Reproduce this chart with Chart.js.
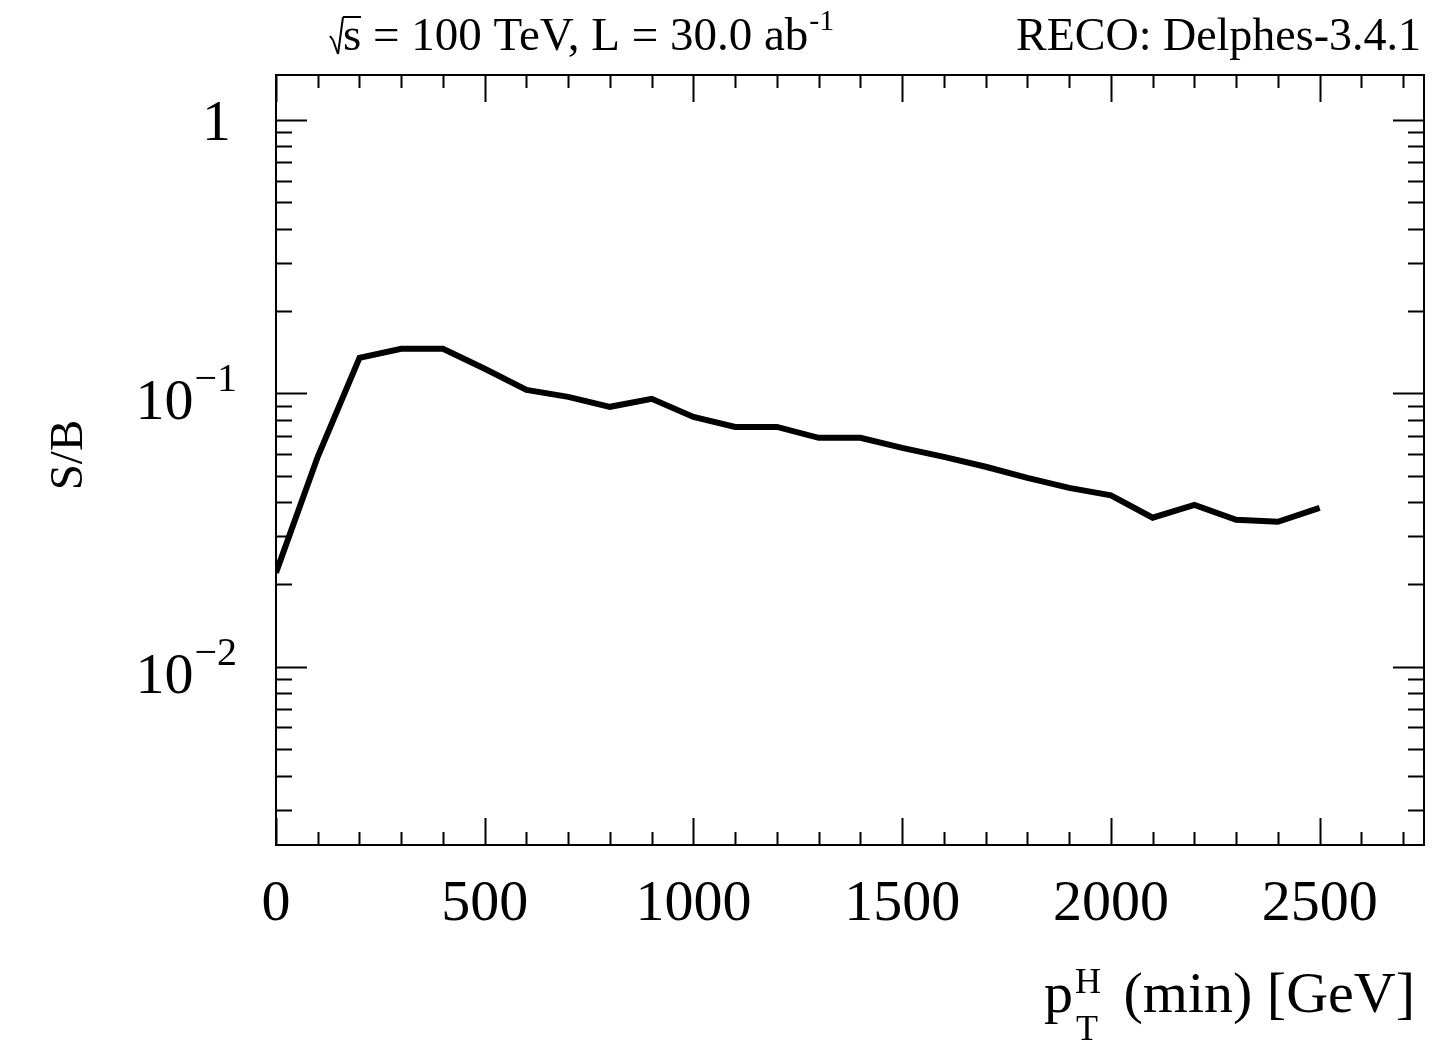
<!DOCTYPE html>
<html>
<head>
<meta charset="utf-8">
<script src="https://cdn.jsdelivr.net/npm/chart.js@4.4.1/dist/chart.umd.min.js"></script>
<style>
    body { margin: 0; background: #fff; }
    canvas { display: block; }
</style>
</head>
<body>
<canvas id="graph" width="1440" height="1041"></canvas>
<script>
// pT(min) cut values [GeV]
const ptMin = [0, 100, 200, 300, 400, 500, 600, 700, 800, 900, 1000, 1100, 1200,
    1300, 1400, 1500, 1600, 1700, 1800, 1900, 2000, 2100, 2200, 2300, 2400, 2500];
// S/B
const sOverB = [0.0221, 0.0586, 0.135, 0.1455, 0.1455, 0.123, 0.103, 0.0971, 0.0893, 0.0955,
    0.082, 0.0754, 0.0754, 0.0688, 0.0688, 0.0632, 0.0586, 0.0539, 0.0491, 0.0451,
    0.0424, 0.0351, 0.0391, 0.0345, 0.0339, 0.0381];

const xLabels = [0, 500, 1000, 1500, 2000, 2500];
const xMinorStep = 100;
const yDecades = [0.01, 0.1, 1];
const yLabels = ['1', '10|−1', '10|−2'];  // base|exponent
const xRange = [0, 2750];
const yRange = [0.00223, 1.46];

const serif = '"Liberation Serif", "DejaVu Serif", serif';

function line(ctx, x1, y1, x2, y2) {
    ctx.beginPath();
    ctx.moveTo(x1, y1);
    ctx.lineTo(x2, y2);
    ctx.stroke();
}

const rootFrame = {
    id: 'rootFrame',
    afterDraw(chart) {
        const ctx = chart.ctx;
        const a = chart.chartArea;
        const x = chart.scales.x;
        const y = chart.scales.y;
        ctx.save();
        ctx.strokeStyle = '#000';
        ctx.fillStyle = '#000';
        ctx.lineWidth = 2;
        ctx.strokeRect(a.left, a.top, a.right - a.left, a.bottom - a.top);

        // x ticks, bottom and top, pointing inward
        for (let v = xRange[0]; v <= xRange[1]; v += xMinorStep) {
            const px = Math.round(x.getPixelForValue(v)) + 0.5;
            const len = xLabels.includes(v) ? 27 : 13;
            line(ctx, px, a.bottom, px, a.bottom - len);
            line(ctx, px, a.top, px, a.top + len);
        }
        // y ticks, log: decades + 2..9
        for (let e = -3; e <= 0; e++) {
            for (let m = 1; m <= 9; m++) {
                const v = m * Math.pow(10, e);
                if (v < yRange[0] || v > yRange[1]) continue;
                const py = Math.round(y.getPixelForValue(v)) + 0.5;
                const len = m === 1 ? 31 : 16;
                line(ctx, a.left, py, a.left + len, py);
                line(ctx, a.right, py, a.right - len, py);
            }
        }

        // x tick labels
        ctx.font = '58px ' + serif;
        ctx.textAlign = 'center';
        ctx.textBaseline = 'alphabetic';
        xLabels.forEach(v => {
            ctx.fillText(String(v), x.getPixelForValue(v), 920);
        });

        // y tick labels
        const decadesDesc = [...yDecades].reverse();
        decadesDesc.forEach((v, i) => {
            const py = y.getPixelForValue(v);
            const [base, exp] = yLabels[i].split('|');
            ctx.textAlign = 'right';
            if (!exp) {
                ctx.font = '58px ' + serif;
                ctx.fillText(base, 231, py + 20);
            } else {
                ctx.font = '40px ' + serif;
                const ew = ctx.measureText(exp).width;
                ctx.fillText(exp, 237, py - 2);
                ctx.font = '58px ' + serif;
                ctx.fillText(base, 237 - ew - 1, py + 26);
            }
        });

        // y title
        ctx.save();
        ctx.translate(82, 455);
        ctx.rotate(-Math.PI / 2);
        ctx.font = '47px ' + serif;
        ctx.textAlign = 'center';
        ctx.fillText('S/B', 0, 0);
        ctx.restore();

        // x title
        ctx.font = '58px ' + serif;
        ctx.textAlign = 'right';
        ctx.fillText('(min) [GeV]', 1415, 1012);
        ctx.textAlign = 'left';
        ctx.fillText('p', 1044, 1012);
        ctx.font = '36px ' + serif;
        ctx.fillText('H', 1075, 993);
        ctx.fillText('T', 1076, 1040);

        // header left: sqrt(s) = 100 TeV, L = 30.0 ab^-1
        ctx.font = '47px ' + serif;
        ctx.textAlign = 'left';
        let cx = 328;
        const base = 50;
        ctx.lineWidth = 2;
        line(ctx, cx + 2, base - 14, cx + 5, base - 10);
        line(ctx, cx + 5, base - 10, cx + 10, base + 4);
        line(ctx, cx + 10, base + 4, cx + 15, base - 33);
        line(ctx, cx + 15, base - 33, cx + 33, base - 33);
        cx += 15;
        ctx.fillText('s', cx, base);
        cx += ctx.measureText('s').width;
        const main = ' = 100 TeV, L = 30.0 ab';
        ctx.fillText(main, cx, base);
        cx += ctx.measureText(main).width;
        ctx.font = '30px ' + serif;
        ctx.fillText('-1', cx + 1, base - 20);

        // header right
        ctx.font = '46px ' + serif;
        ctx.textAlign = 'right';
        ctx.fillText('RECO: Delphes-3.4.1', 1421, base);
        ctx.restore();
    }
};

let graph = new Chart(document.getElementById('graph'), {
    type: 'line',
    data: {
        datasets: [{
            data: ptMin.map((v, i) => ({x: v, y: sOverB[i]})),
            borderColor: '#000',
            borderWidth: 6,
            pointRadius: 0,
            tension: 0,
            fill: false
        }]
    },
    options: {
        responsive: false,
        animation: false,
        layout: {padding: {left: 276, top: 75, right: 16, bottom: 196}},
        plugins: {legend: {display: false}, tooltip: {enabled: false}},
        scales: {
            x: {type: 'linear', min: xRange[0], max: xRange[1], display: false},
            y: {type: 'logarithmic', min: yRange[0], max: yRange[1], display: false}
        }
    },
    plugins: [rootFrame]
});
</script>
</body>
</html>
